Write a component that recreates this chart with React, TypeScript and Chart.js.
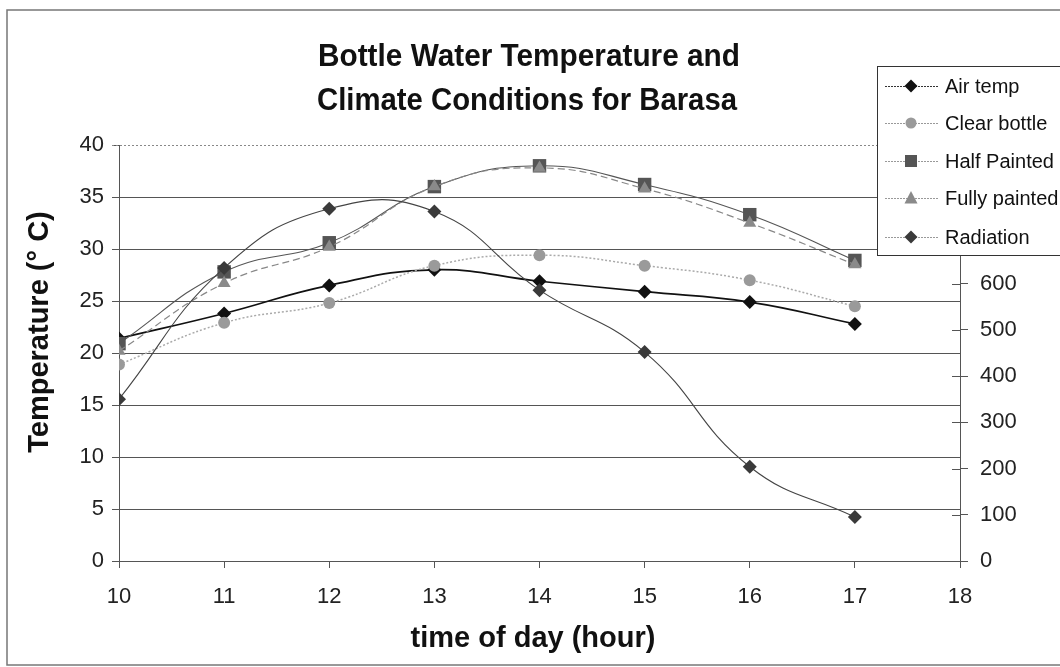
import React, { useEffect, useRef } from 'react';
import { Chart, registerables } from 'chart.js';

Chart.register(...registerables);

const hours = [10, 11, 12, 13, 14, 15, 16, 17];
const airTemp = [21.4, 23.8, 26.5, 28.0, 26.9, 25.9, 24.9, 22.8];
const clearBottle = [18.9, 22.9, 24.8, 28.4, 29.4, 28.4, 27.0, 24.5];
const halfPainted = [20.9, 27.8, 30.6, 36.0, 38.0, 36.2, 33.3, 28.9];
const fullyPainted = [20.2, 26.7, 30.2, 36.0, 37.8, 35.8, 32.5, 28.5];
const radiation = [350, 634, 762, 756, 586, 452, 204, 95];

const seriesNames = ['Air temp', 'Clear bottle', 'Half Painted', 'Fully painted', 'Radiation'];
const seriesValues = [airTemp, clearBottle, halfPainted, fullyPainted, radiation];
const titleLines = ['Bottle Water Temperature and', 'Climate Conditions for Barasa'];
const xTitle = 'time of day (hour)';
const yTitle = 'Temperature (\u00B0 C)';

const FONT = 'Arial, "Liberation Sans", sans-serif';

type Style = {
  line: string;
  width: number;
  dash: number[];
  marker: string;
  shape: 'diamond' | 'circle' | 'square' | 'triangle';
  chartStyle: string;
  radius: number;
};

const styles: Style[] = [
  { line: '#111', width: 1.7, dash: [], marker: '#111', shape: 'diamond', chartStyle: 'rectRot', radius: 7 },
  { line: '#aaa', width: 1.5, dash: [2, 2], marker: '#9a9a9a', shape: 'circle', chartStyle: 'circle', radius: 6 },
  { line: '#555', width: 1.1, dash: [], marker: '#555', shape: 'square', chartStyle: 'rect', radius: 9.5 },
  { line: '#888', width: 1.2, dash: [7, 4], marker: '#8a8a8a', shape: 'triangle', chartStyle: 'triangle', radius: 7.5 },
  { line: '#444', width: 1.1, dash: [], marker: '#3a3a3a', shape: 'diamond', chartStyle: 'rectRot', radius: 7 },
];

function drawMarker(ctx: CanvasRenderingContext2D, shape: string, x: number, y: number, color: string) {
  ctx.save();
  ctx.fillStyle = color;
  ctx.beginPath();
  if (shape === 'diamond') {
    ctx.moveTo(x, y - 6.5);
    ctx.lineTo(x + 6.5, y);
    ctx.lineTo(x, y + 6.5);
    ctx.lineTo(x - 6.5, y);
  } else if (shape === 'circle') {
    ctx.arc(x, y, 5.5, 0, Math.PI * 2);
  } else if (shape === 'square') {
    ctx.rect(x - 6, y - 6, 12, 12);
  } else {
    ctx.moveTo(x, y - 7);
    ctx.lineTo(x + 6.5, y + 5.5);
    ctx.lineTo(x - 6.5, y + 5.5);
  }
  ctx.closePath();
  ctx.fill();
  ctx.restore();
}

export default function App() {
  const ref = useRef<HTMLCanvasElement>(null);

  useEffect(() => {
    document.body.style.margin = '0';
    const canvas = ref.current!;

    const decor = {
      id: 'decor',
      beforeDraw(chart: any) {
        const ctx = chart.ctx as CanvasRenderingContext2D;
        ctx.save();
        ctx.fillStyle = '#fff';
        ctx.fillRect(0, 0, chart.width, chart.height);
        ctx.restore();
      },
      beforeDatasetsDraw(chart: any) {
        const ctx = chart.ctx as CanvasRenderingContext2D;
        const { left, right, top } = chart.chartArea;
        ctx.save();
        ctx.strokeStyle = '#888';
        ctx.lineWidth = 1;
        ctx.setLineDash([2, 2]);
        ctx.beginPath();
        ctx.moveTo(left - 7, top + 0.5);
        ctx.lineTo(right, top + 0.5);
        ctx.stroke();
        ctx.restore();
      },
      afterDraw(chart: any) {
        const ctx = chart.ctx as CanvasRenderingContext2D;
        const y2 = chart.scales.y2;
        // inner halves of the right-axis cross ticks
        ctx.save();
        ctx.strokeStyle = '#555';
        ctx.lineWidth = 1;
        y2.ticks.forEach((t: any) => {
          const py = Math.round(y2.getPixelForValue(t.value)) + 0.5;
          ctx.beginPath();
          ctx.moveTo(y2.left - 8, py);
          ctx.lineTo(y2.left, py);
          ctx.stroke();
        });
        ctx.restore();

        // title
        ctx.save();
        ctx.fillStyle = '#111';
        ctx.font = `bold 32px ${FONT}`;
        ctx.textAlign = 'center';
        ctx.textBaseline = 'alphabetic';
        ctx.fillText(titleLines[0], 529, 66, 422);
        ctx.fillText(titleLines[1], 527, 110, 420);
        ctx.restore();

        // axis titles
        ctx.save();
        ctx.fillStyle = '#111';
        ctx.font = `bold 29px ${FONT}`;
        ctx.textAlign = 'center';
        ctx.textBaseline = 'alphabetic';
        ctx.fillText(xTitle, 533, 647);
        ctx.translate(48, 332);
        ctx.rotate(-Math.PI / 2);
        ctx.fillText(yTitle, 0, 0);
        ctx.restore();

        // legend
        ctx.save();
        ctx.fillStyle = '#fff';
        ctx.fillRect(877, 66, 200, 189);
        ctx.strokeStyle = '#333';
        ctx.lineWidth = 1;
        ctx.strokeRect(877.5, 66.5, 200, 189);
        const rows = [86, 123, 161, 198, 237];
        seriesNames.forEach((name, i) => {
          const y = rows[i];
          const s = styles[i];
          ctx.save();
          ctx.strokeStyle = i === 0 ? '#333' : '#999';
          ctx.lineWidth = 1;
          ctx.setLineDash([2, 1]);
          ctx.beginPath();
          ctx.moveTo(885, y + 0.5);
          ctx.lineTo(938, y + 0.5);
          ctx.stroke();
          ctx.restore();
          drawMarker(ctx, s.shape, 911, y, s.marker);
          ctx.fillStyle = '#111';
          ctx.font = `20px ${FONT}`;
          ctx.textAlign = 'left';
          ctx.textBaseline = 'middle';
          ctx.fillText(name, 945, y + 1);
        });
        ctx.restore();

        // outer border
        ctx.save();
        ctx.strokeStyle = '#777';
        ctx.lineWidth = 1.5;
        ctx.strokeRect(7, 10, 1070, 655);
        ctx.restore();
      },
    };

    const chart = new Chart(canvas, {
      type: 'line',
      data: {
        datasets: seriesNames.map((name, i) => ({
          label: name,
          data: hours.map((h, j) => ({ x: h, y: seriesValues[i][j] })),
          yAxisID: i === 4 ? 'y2' : 'y',
          borderColor: styles[i].line,
          borderWidth: styles[i].width,
          borderDash: styles[i].dash,
          pointStyle: styles[i].chartStyle as any,
          pointRadius: styles[i].radius,
          pointBackgroundColor: styles[i].marker,
          pointBorderColor: styles[i].marker,
          pointBorderWidth: 0,
          tension: 0.45,
          fill: false,
          order: 5 - i,
        })),
      },
      plugins: [decor],
      options: {
        animation: false,
        responsive: false,
        devicePixelRatio: 1,
        layout: { padding: { top: 145, left: 0, right: 0, bottom: 0 } },
        plugins: {
          legend: { display: false },
          tooltip: { enabled: false },
          title: { display: false },
        },
        scales: {
          x: {
            type: 'linear',
            min: 10,
            max: 18,
            ticks: { stepSize: 1, color: '#222', font: { family: FONT, size: 22 }, padding: 16 },
            grid: { drawOnChartArea: false, color: '#555', tickLength: 7 },
            border: { color: '#555' },
            title: { display: false },
            afterFit: (s: any) => {
              s.height = 106;
            },
          },
          y: {
            type: 'linear',
            position: 'left',
            min: 0,
            max: 40,
            ticks: { stepSize: 5, color: '#222', font: { family: FONT, size: 22 }, padding: 8 },
            grid: {
              color: (c: any) => (c.tick && c.tick.value === 40 ? 'rgba(0,0,0,0)' : '#555'),
              tickColor: '#555',
              tickLength: 7,
            },
            border: { color: '#555' },
            title: { display: false },
            afterFit: (s: any) => {
              s.width = 119;
            },
          },
          y2: {
            type: 'linear',
            position: 'right',
            min: 0,
            max: 900,
            ticks: { stepSize: 100, color: '#222', font: { family: FONT, size: 22 }, padding: 12 },
            grid: { drawOnChartArea: false, color: '#555', tickLength: 8 },
            border: { color: '#555' },
            afterFit: (s: any) => {
              s.width = 100;
            },
          },
        },
      } as any,
    });

    return () => chart.destroy();
  }, []);

  return (
    <div style={{ width: 1060, height: 667 }}>
      <canvas ref={ref} width={1060} height={667} style={{ display: 'block', width: 1060, height: 667 }} />
    </div>
  );
}
